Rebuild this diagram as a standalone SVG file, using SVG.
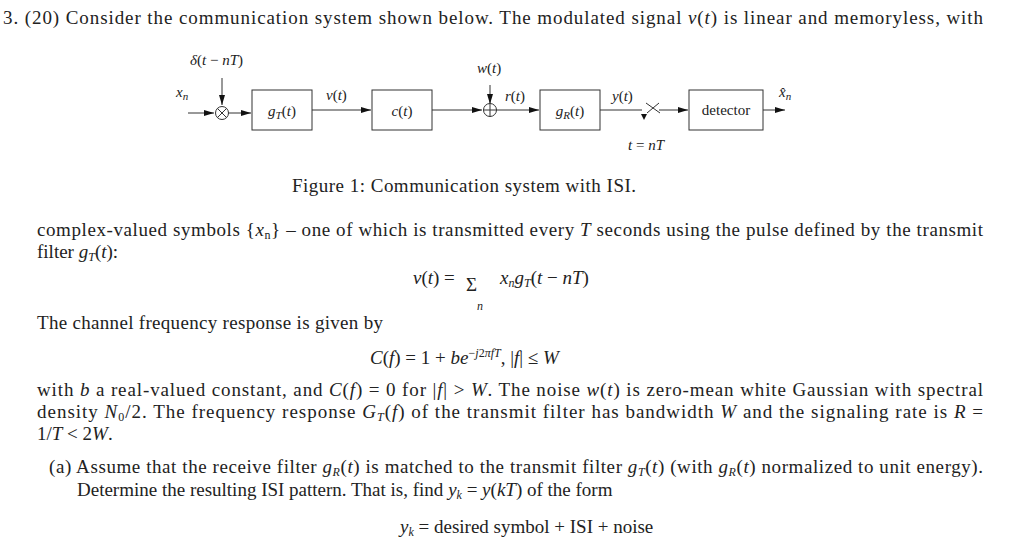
<svg xmlns="http://www.w3.org/2000/svg" width="1024" height="543" viewBox="0 0 1024 543">
<style>
text{font-family:"Liberation Serif","DejaVu Serif",serif;font-size:19px;fill:#222}
.i{font-style:italic}
.s{font-size:12px}
.d{font-size:15px}
.d .s{font-size:11px}
.b{fill:#fff;stroke:#333;stroke-width:1}
.l{stroke:#333;stroke-width:1;fill:none}
</style>
<defs><marker id="a" viewBox="0 0 10 6" refX="10" refY="3" markerWidth="10" markerHeight="6" orient="auto" markerUnits="userSpaceOnUse"><path d="M0,0L10,3L0,6z" fill="#111"/></marker></defs>
<rect width="1024" height="543" fill="#fff"/>
<text x="3" y="24" textLength="980" lengthAdjust="spacing">3. (20) Consider the communication system shown below.  The modulated signal <tspan class="i">v</tspan>(<tspan class="i">t</tspan>) is linear and memoryless, with</text>
<g id="connectors">
<path class="l" d="M188,113H214" marker-end="url(#a)"/>
<path class="l" d="M222,78V105" marker-end="url(#a)"/>
<path class="l" d="M228,113H251" marker-end="url(#a)"/>
<path class="l" d="M312,110H371" marker-end="url(#a)"/>
<path class="l" d="M432,110H482" marker-end="url(#a)"/>
<path class="l" d="M490,85V104" marker-end="url(#a)"/>
<path class="l" d="M496,110H539" marker-end="url(#a)"/>
<path class="l" d="M600,110H642M646,103L660,113M647,113L659,103M659,110H688" marker-end="url(#a)"/>
<path d="M641,114L647,114L644,120z" fill="#111"/>
<path class="l" d="M763,110H785" marker-end="url(#a)"/>
</g>
<g id="mult"><circle class="b" cx="222" cy="113" r="6.5"/><path class="l" d="M217.4,108.4l9.2,9.2M226.6,108.4l-9.2,9.2"/></g>
<g id="sum"><circle class="b" cx="490" cy="110" r="6.5"/><path class="l" d="M483.5,110h13M490,103.5v13"/></g>
<g id="gT"><rect class="b" x="252" y="90" width="60" height="40"/><text x="282" y="116" text-anchor="middle" class="d"><tspan class="i">g</tspan><tspan class="i s" dy="3">T</tspan><tspan dy="-3">(</tspan><tspan class="i">t</tspan>)</text></g>
<g id="c"><rect class="b" x="372" y="90" width="60" height="40"/><text x="402" y="116" text-anchor="middle" class="d"><tspan class="i">c</tspan>(<tspan class="i">t</tspan>)</text></g>
<g id="gR"><rect class="b" x="540" y="90" width="60" height="40"/><text x="570" y="116" text-anchor="middle" class="d"><tspan class="i">g</tspan><tspan class="i s" dy="3">R</tspan><tspan dy="-3">(</tspan><tspan class="i">t</tspan>)</text></g>
<g id="det"><rect class="b" x="689" y="90" width="74" height="40"/><text x="726" y="115" text-anchor="middle" class="d">detector</text></g>
<text x="190" y="65" class="d"><tspan class="i">δ</tspan>(<tspan class="i">t</tspan> − <tspan class="i">nT</tspan>)</text>
<text x="176" y="97" class="d i">x<tspan class="s" dy="3">n</tspan></text>
<text x="326" y="100" class="d"><tspan class="i">v</tspan>(<tspan class="i">t</tspan>)</text>
<text x="477" y="73" class="d"><tspan class="i">w</tspan>(<tspan class="i">t</tspan>)</text>
<text x="505" y="101" class="d"><tspan class="i">r</tspan>(<tspan class="i">t</tspan>)</text>
<text x="612" y="101" class="d"><tspan class="i">y</tspan>(<tspan class="i">t</tspan>)</text>
<text x="628" y="150" class="d"><tspan class="i">t</tspan> = <tspan class="i">nT</tspan></text>
<text x="779" y="97" class="d i">x̂<tspan class="s" dy="3">n</tspan></text>
<text x="292" y="192" textLength="344">Figure 1: Communication system with ISI.</text>
<text x="37" y="236" textLength="946" lengthAdjust="spacing">complex-valued symbols {<tspan class="i">x</tspan><tspan class="s" dy="3">n</tspan><tspan dy="-3">} – one of which is transmitted every </tspan><tspan class="i">T</tspan> seconds using the pulse defined by the transmit</text>
<text x="37" y="258">filter <tspan class="i">g</tspan><tspan class="i s" dy="3">T</tspan><tspan dy="-3">(</tspan><tspan class="i">t</tspan>):</text>
<text x="413" y="284"><tspan class="i">v</tspan>(<tspan class="i">t</tspan>) =</text>
<text x="466" y="291" font-size="32">Σ</text>
<text x="500" y="284"><tspan class="i">x</tspan><tspan class="i s" dy="3">n</tspan><tspan class="i" dy="-3">g</tspan><tspan class="i s" dy="3">T</tspan><tspan dy="-3">(</tspan><tspan class="i">t</tspan> − <tspan class="i">nT</tspan>)</text>
<text x="477" y="310" class="i s">n</text>
<text x="37" y="329" textLength="346">The channel frequency response is given by</text>
<text x="370" y="364"><tspan class="i">C</tspan>(<tspan class="i">f</tspan>) = 1 + <tspan class="i">be</tspan><tspan class="s" dy="-7">−<tspan class="i">j</tspan>2<tspan class="i">πfT</tspan></tspan><tspan dy="7">,     |</tspan><tspan class="i">f</tspan>| ≤ <tspan class="i">W</tspan></text>
<text x="37" y="396" textLength="946" lengthAdjust="spacing">with <tspan class="i">b</tspan> a real-valued constant, and <tspan class="i">C</tspan>(<tspan class="i">f</tspan>) = 0 for |<tspan class="i">f</tspan>| &gt; <tspan class="i">W</tspan>. The noise <tspan class="i">w</tspan>(<tspan class="i">t</tspan>) is zero-mean white Gaussian with spectral</text>
<text x="37" y="418" textLength="946" lengthAdjust="spacing">density <tspan class="i">N</tspan><tspan class="s" dy="3">0</tspan><tspan dy="-3">/2. The frequency response </tspan><tspan class="i">G</tspan><tspan class="i s" dy="3">T</tspan><tspan dy="-3">(</tspan><tspan class="i">f</tspan>) of the transmit filter has bandwidth <tspan class="i">W</tspan> and the signaling rate is <tspan class="i">R</tspan> =</text>
<text x="37" y="440">1/<tspan class="i">T</tspan> &lt; 2<tspan class="i">W</tspan>.</text>
<text x="49" y="473" textLength="934" lengthAdjust="spacing">(a) Assume that the receive filter <tspan class="i">g</tspan><tspan class="i s" dy="3">R</tspan><tspan dy="-3">(</tspan><tspan class="i">t</tspan>) is matched to the transmit filter <tspan class="i">g</tspan><tspan class="i s" dy="3">T</tspan><tspan dy="-3">(</tspan><tspan class="i">t</tspan>) (with <tspan class="i">g</tspan><tspan class="i s" dy="3">R</tspan><tspan dy="-3">(</tspan><tspan class="i">t</tspan>) normalized to unit energy).</text>
<text x="77" y="496">Determine the resulting ISI pattern. That is, find <tspan class="i">y</tspan><tspan class="i s" dy="3">k</tspan><tspan dy="-3"> = </tspan><tspan class="i">y</tspan>(<tspan class="i">kT</tspan>) of the form</text>
<text x="400" y="533"><tspan class="i">y</tspan><tspan class="i s" dy="3">k</tspan><tspan dy="-3"> = desired symbol + ISI + noise</tspan></text>
</svg>
